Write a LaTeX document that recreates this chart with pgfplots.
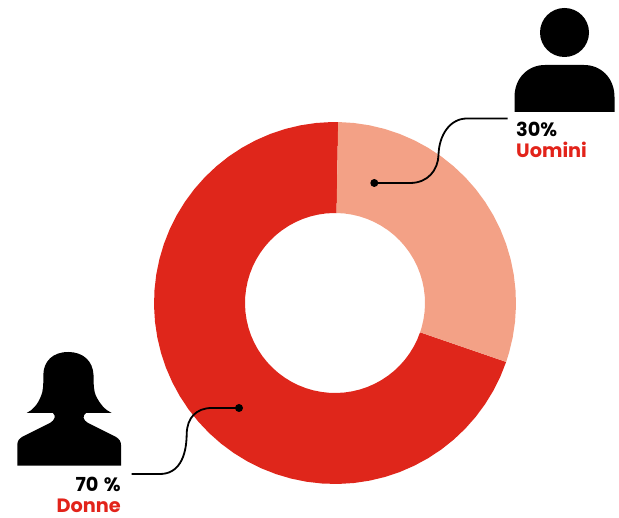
\documentclass[border=0pt]{standalone}
\usepackage{fontspec}
\setmainfont{Poppins}
\usepackage{pgfplots}
\pgfplotsset{compat=1.18}
\definecolor{donnered}{HTML}{DF261B}
\definecolor{uominisal}{HTML}{F3A186}
\definecolor{labelred}{HTML}{E2231A}
\begin{document}
\begin{tikzpicture}[x=1pt,y=1pt]
\begin{axis}[
  at={(0,0)},anchor=south west,
  width=619pt,height=518pt,scale only axis,
  xmin=-335,xmax=284,ymin=-215,ymax=303,
  hide axis,clip=false]
% Donne 70% : 252 degrees, outer radius 181, inner radius 90
\addplot[fill=donnered,draw=none,data cs=polar] coordinates {
(-19,181)(-24,181)(-29,181)(-34,181)(-39,181)(-44,181)(-49,181)(-54,181)(-59,181)(-64,181)(-69,181)(-74,181)(-79,181)(-84,181)(-89,181)(-94,181)(-99,181)(-104,181)(-109,181)(-114,181)(-119,181)(-124,181)(-129,181)(-134,181)(-139,181)(-144,181)(-149,181)(-154,181)(-159,181)(-164,181)(-169,181)(-174,181)(-179,181)(-184,181)(-189,181)(-194,181)(-199,181)(-204,181)(-209,181)(-214,181)(-219,181)(-224,181)(-229,181)(-234,181)(-239,181)(-244,181)(-249,181)(-254,181)(-259,181)(-264,181)(-269,181)(-271,181)
(-271,90)(-269,90)(-264,90)(-259,90)(-254,90)(-249,90)(-244,90)(-239,90)(-234,90)(-229,90)(-224,90)(-219,90)(-214,90)(-209,90)(-204,90)(-199,90)(-194,90)(-189,90)(-184,90)(-179,90)(-174,90)(-169,90)(-164,90)(-159,90)(-154,90)(-149,90)(-144,90)(-139,90)(-134,90)(-129,90)(-124,90)(-119,90)(-114,90)(-109,90)(-104,90)(-99,90)(-94,90)(-89,90)(-84,90)(-79,90)(-74,90)(-69,90)(-64,90)(-59,90)(-54,90)(-49,90)(-44,90)(-39,90)(-34,90)(-29,90)(-24,90)(-19,90)
} -- cycle;
% Uomini 30% : 108 degrees
\addplot[fill=uominisal,draw=none,data cs=polar] coordinates {
(89,181)(84,181)(79,181)(74,181)(69,181)(64,181)(59,181)(54,181)(49,181)(44,181)(39,181)(34,181)(29,181)(24,181)(19,181)(14,181)(9,181)(4,181)(-1,181)(-6,181)(-11,181)(-16,181)(-19,181)
(-19,90)(-16,90)(-11,90)(-6,90)(-1,90)(4,90)(9,90)(14,90)(19,90)(24,90)(29,90)(34,90)(39,90)(44,90)(49,90)(54,90)(59,90)(64,90)(69,90)(74,90)(79,90)(84,90)(89,90)
} -- cycle;
\end{axis}
\path[use as bounding box] (0,0) rectangle (619,518);
\begin{scope}[shift={(0,518)},y=-1pt]
% man icon
\fill[black] (564.5,32.5) circle (24.5);
\fill[black] (514.5,112) -- (514.5,97) .. controls (514.5,78) and (528,65) .. (545,65) -- (584,65) .. controls (601,65) and (614.5,78) .. (614.5,97) -- (614.5,112) -- cycle;
% woman icon
\fill[black] (68.3,352) .. controls (53,352) and (43.5,361) .. (43.3,375)
  .. controls (43.5,385) and (43,392) .. (41,396) .. controls (38,404) and (33,410) .. (26.7,413)
  -- (53,413) .. controls (56,416) and (55,420) .. (50,423) -- (22,437)
  .. controls (19,439) and (17.3,441) .. (17.3,445) -- (17.3,465.7) -- (121,465.7) -- (121,445)
  .. controls (121,441) and (119,439) .. (116,437) -- (88,423) .. controls (83,420) and (82,416) .. (86,413)
  -- (111.7,413) .. controls (105,410) and (100,404) .. (96,396) .. controls (94,392) and (93.5,385) .. (93.5,375)
  .. controls (93,361) and (83,352) .. (68.3,352) -- cycle;
% leaders
\draw[black,line width=1.8pt] (374.3,183) -- (410,183) .. controls (428,183) and (438,170) .. (438.5,155)
  .. controls (439,135) and (450,118.5) .. (467,118.5) -- (507.7,118.5);
\fill[black] (374.3,183) circle (4);
\draw[black,line width=1.8pt] (239,408) -- (212,408) .. controls (196,408) and (187,418) .. (186.7,434)
  .. controls (186.5,458) and (178,474) .. (160,474) -- (131.7,474);
\fill[black] (239,408) circle (4);
% labels
\node[anchor=base west,inner sep=0pt,text depth=0pt,font=\fontsize{19.3}{21}\selectfont\bfseries,text=black] at (516,136.5) {30\%};
\node[anchor=base west,inner sep=0pt,text depth=0pt,font=\fontsize{19.3}{21}\selectfont\bfseries,text=labelred] at (516,157.5) {Uomini};
\node[anchor=base east,inner sep=0pt,text depth=0pt,font=\fontsize{19.3}{21}\selectfont\bfseries,text=black] at (121,492) {70\hspace{5.5pt}\%};
\node[anchor=base east,inner sep=0pt,text depth=0pt,font=\fontsize{19.3}{21}\selectfont\bfseries,text=labelred] at (121,513) {Donne};
\end{scope}
\end{tikzpicture}
\end{document}
